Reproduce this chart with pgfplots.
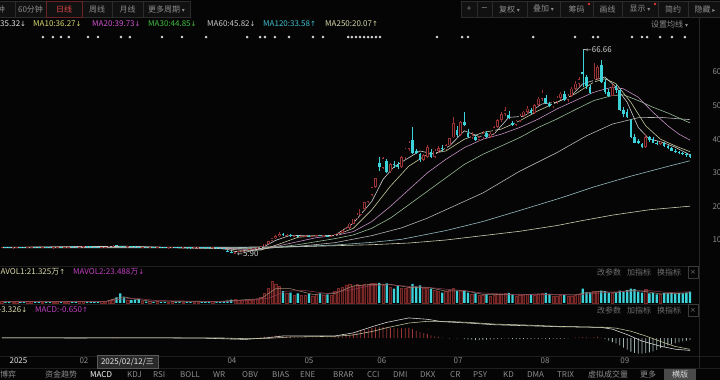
\documentclass[border=0pt]{standalone}
\usepackage{pgfplots}
\pgfplotsset{compat=1.18}
\usepackage{pgfplotstable}
\usepackage{fontspec}
\setmainfont{Noto Sans CJK SC}
\newfontfamily\djv{DejaVu Sans}
\definecolor{bg}{HTML}{050505}
\definecolor{upred}{HTML}{9A3434}
\definecolor{volred}{HTML}{7A2828}
\definecolor{volfill}{HTML}{341010}
\definecolor{dncyan}{HTML}{3CD2DA}
\definecolor{txtgrey}{HTML}{8C8C8C}
\definecolor{ma5c}{HTML}{E2E2E2}
\definecolor{ma10c}{HTML}{D8D870}
\definecolor{ma20c}{HTML}{D050D0}
\definecolor{ma30c}{HTML}{40C040}
\definecolor{ma60c}{HTML}{C8C8C8}
\definecolor{ma120c}{HTML}{40C0D0}
\definecolor{ma250c}{HTML}{D8D8A8}
\definecolor{lgrey}{HTML}{B8B8B8}
\definecolor{boxc}{HTML}{111111}
\definecolor{boxl}{HTML}{2C2C2C}
\definecolor{tabred}{HTML}{6A2424}
\definecolor{tabtxt}{HTML}{E04444}
\definecolor{reddot}{HTML}{E03030}
\definecolor{sepc}{HTML}{1E1E1E}
\definecolor{vsep}{HTML}{262626}
\definecolor{mavol1}{HTML}{A08870}
\definecolor{mavol2}{HTML}{8E3A52}
\definecolor{histneg}{HTML}{A0B4B4}
\definecolor{histpos}{HTML}{A03636}
\definecolor{deac}{HTML}{C8C8A0}
\definecolor{mavlab}{HTML}{D8D8A8}
\definecolor{magl}{HTML}{C040C0}
\definecolor{dealab}{HTML}{E0E0B0}
\definecolor{dimtxt}{HTML}{6E6E6E}
\definecolor{xbox}{HTML}{3A3A3A}
\definecolor{tipl}{HTML}{5A5A5A}
\definecolor{tipf}{HTML}{2A2A2A}
\definecolor{hengf}{HTML}{4A4A4A}
\newcommand\ft{\fontsize{8}{9.6}\selectfont}
\newcommand\dn{{\djv\fontsize{7}{8}\selectfont ↓}}
\newcommand\up{{\djv\fontsize{7}{8}\selectfont ↑}}
\newcommand\tri{{\djv\fontsize{6}{7}\selectfont ▾}}

\pgfplotsset{
  panel/.style={scale only axis, width=697pt, xmin=-0.5, xmax=187.88,
    axis line style={draw=none}, tick style={draw=none}, xtick=\empty, ytick=\empty,
    clip=false, anchor=south west},
  seg/.style={mark=none, -, quiver={u=0, v={#1}}}
}

\pgfplotstableread{
d o h l c v u m
0 7.80 7.95 7.70 7.85 3 1 0
1 7.85 7.90 7.65 7.70 3 0 0
2 7.70 7.80 7.55 7.60 3 0 0
3 7.60 7.75 7.50 7.70 2 1 0
4 7.70 7.85 7.65 7.80 3 1 0
5 7.80 7.90 7.70 7.75 2 0 0
6 7.75 7.85 7.60 7.65 2 0 0
7 7.65 7.80 7.60 7.75 3 1 0
8 7.75 7.90 7.70 7.85 3 1 0
9 7.85 7.95 7.75 7.80 2 0 0
10 7.80 7.90 7.65 7.70 2 0 0
11 7.70 7.80 7.60 7.75 2 1 0
12 7.75 7.85 7.65 7.70 2 0 0
13 7.70 7.80 7.60 7.65 2 0 0
14 7.65 7.75 7.55 7.70 2 1 0
15 7.70 7.85 7.65 7.80 3 1 0
16 7.80 7.90 7.70 7.75 2 0 0
17 7.75 7.85 7.65 7.80 2 1 0
18 7.80 7.95 7.75 7.90 3 1 0
19 7.90 8.00 7.80 7.85 3 0 0
20 7.85 7.95 7.75 7.80 2 0 0
21 7.80 7.90 7.70 7.85 3 1 0
22 7.85 8.00 7.80 7.95 4 1 0
23 7.95 8.05 7.85 7.90 3 0 0
24 7.90 8.00 7.80 7.85 3 0 0
25 7.85 7.95 7.75 7.80 2 0 0
26 7.80 7.90 7.70 7.75 2 0 0
27 7.75 7.85 7.65 7.80 3 1 0
28 7.80 7.95 7.75 7.90 3 1 0
29 7.90 8.10 7.85 8.05 6 1 0.05
30 8.05 8.40 8.00 8.30 8 1 0.1
31 8.30 8.60 8.15 8.25 12 0 0.1
32 8.25 8.35 8.00 8.05 20 0 0.05
33 8.05 8.15 7.90 7.95 12 0 0
34 7.95 8.05 7.85 8.00 5 1 0
35 8.00 8.10 7.85 7.90 6 0 0
36 7.90 8.00 7.80 7.85 7 0 0
37 7.85 7.95 7.75 7.80 8 0 0
38 7.80 7.90 7.70 7.85 4 1 0
39 7.85 7.95 7.75 7.80 3 0 0
40 7.80 7.90 7.70 7.85 3 1 0
41 7.85 7.90 7.65 7.70 2 0 0
42 7.70 7.80 7.60 7.75 3 1 0
43 7.75 7.85 7.65 7.70 2 0 0
44 7.70 7.80 7.60 7.65 2 0 0
45 7.65 7.75 7.55 7.70 2 1 0
46 7.70 7.80 7.60 7.75 3 1 0
47 7.75 7.85 7.65 7.70 2 0 0
48 7.70 7.80 7.55 7.60 3 0 0
49 7.60 7.70 7.50 7.65 2 1 0
50 7.65 7.75 7.55 7.60 2 0 0
51 7.60 7.70 7.50 7.55 2 0 0
52 7.55 7.65 7.45 7.60 2 1 0
53 7.60 7.75 7.55 7.70 3 1 0
54 7.70 7.80 7.60 7.65 2 0 0
55 7.65 7.75 7.55 7.60 2 0 0
56 7.60 7.70 7.50 7.55 2 0 0
57 7.55 7.65 7.45 7.60 3 1 0
58 7.60 7.70 7.50 7.55 3 0 0
59 7.55 7.60 7.40 7.45 3 0 -0.05
60 7.45 7.55 7.30 7.35 4 0 -0.1
61 6.90 7.00 6.62 6.62 5 0 -0.2
62 6.40 6.60 6.00 6.10 7 0 -0.3
63 6.00 6.40 5.90 6.35 8 1 -0.4
64 6.35 6.70 6.30 6.65 6 1 -0.4
65 6.65 6.90 6.55 6.80 5 1 -0.35
66 6.80 7.10 6.75 7.05 5 1 -0.3
67 7.05 7.40 7.00 7.35 6 1 -0.2
68 7.35 7.60 7.25 7.50 6 1 -0.1
69 7.50 7.80 7.40 7.70 8 1 0
70 7.70 8.20 7.65 8.10 12 1 0.2
71 8.10 8.90 8.05 8.85 20 1 0.3
72 8.85 9.70 8.80 9.70 30 1 0.4
73 9.70 10.67 9.60 10.50 46 1 0.6
74 10.50 11.50 10.30 11.20 40 1 0.7
75 11.20 12.40 11.00 11.80 35 1 0.7
76 11.80 12.20 11.20 11.40 25 0 0.6
77 11.40 11.90 11.10 11.50 20 1 0.5
78 11.50 11.70 11.00 11.10 22 0 0.4
79 11.10 11.40 10.80 11.20 17 1 0.3
80 11.20 11.50 10.90 11.00 20 0 0.2
81 11.00 11.30 10.80 11.10 16 1 0.2
82 11.10 11.40 10.90 11.25 17 1 0.15
83 11.25 11.40 10.95 11.00 19 0 0.1
84 11.00 11.20 10.80 11.10 15 1 0.1
85 11.10 11.50 11.00 11.40 18 1 0.1
86 11.40 11.60 11.10 11.20 20 0 0.05
87 11.20 11.50 11.00 11.30 16 1 0.05
88 11.30 11.45 11.00 11.10 18 0 0.1
89 11.10 11.40 10.95 11.30 16 1 0.1
90 11.30 11.80 11.20 11.70 24 1 0.15
91 11.70 12.20 11.50 12.10 30 1 0.3
92 12.10 13.00 12.00 12.90 34 1 0.5
93 12.90 13.80 12.70 13.60 38 1 0.7
94 13.60 15.00 13.40 14.90 40 1 0.9
95 14.90 16.39 14.70 16.39 36 1 1.2
96 16.39 18.03 16.20 17.60 40 1 1.6
97 17.60 19.36 17.40 19.36 38 1 2.0
98 19.36 21.30 19.00 21.30 40 1 2.4
99 21.30 23.43 21.00 23.43 39 1 2.7
100 23.43 25.77 23.00 25.77 41 1 2.9
101 25.77 28.35 25.50 28.35 42 1 3.1
102 33.00 34.70 30.50 31.70 42 0 3.2
103 31.50 34.80 31.20 34.40 38 1 3.2
104 33.50 34.00 29.80 30.20 41 0 3.1
105 30.50 33.00 30.00 32.60 33 1 3.0
106 32.60 33.50 31.50 32.30 30 0 2.9
107 32.30 33.20 31.00 31.70 36 0 2.8
108 31.80 35.00 31.50 34.60 30 1 2.8
109 34.60 37.50 34.00 37.20 32 1 2.9
110 37.20 39.50 36.50 38.90 33 1 3.0
111 39.80 43.60 35.50 35.90 40 0 2.6
112 36.50 37.20 35.50 36.00 35 0 2.2
113 35.50 36.00 33.20 33.80 37 0 1.7
114 33.80 35.50 33.50 35.20 30 1 1.4
115 34.70 38.20 34.50 37.70 32 1 1.2
116 36.20 37.00 34.40 34.70 30 0 0.8
117 34.80 37.00 34.50 36.60 26 1 0.5
118 36.50 38.00 36.00 37.40 25 1 0.3
119 37.40 38.40 36.50 37.00 22 0 0.1
120 37.00 38.50 36.80 38.20 24 1 0.0
121 38.20 40.50 38.00 40.30 27 1 -0.1
122 40.60 46.60 40.30 44.80 30 1 0.0
123 42.70 44.00 40.80 41.20 26 0 -0.1
124 41.30 45.50 41.00 45.00 24 1 0.0
125 45.10 48.00 43.80 44.20 25 0 -0.2
126 42.00 43.00 40.30 40.60 22 0 -0.4
127 40.60 42.00 40.00 41.00 18 1 -0.5
128 40.60 41.20 39.50 39.80 20 0 -0.6
129 39.80 41.00 39.50 40.60 16 1 -0.6
130 40.60 42.30 40.20 41.80 17 1 -0.5
131 41.80 42.50 40.30 40.60 18 0 -0.5
132 40.80 42.00 40.50 41.70 15 1 -0.4
133 41.70 43.80 41.50 43.60 17 1 -0.4
134 43.60 46.00 43.30 45.70 18 1 -0.3
135 45.70 48.00 45.00 47.50 19 1 -0.2
136 47.50 49.50 46.80 48.70 20 1 -0.1
137 47.20 48.50 46.00 46.30 21 0 -0.2
138 44.80 45.50 43.80 44.20 17 0 -0.3
139 44.20 45.80 43.90 45.50 15 1 -0.3
140 45.50 47.50 45.20 47.00 16 1 -0.3
141 47.00 48.50 46.50 48.20 17 1 -0.3
142 48.20 49.80 47.60 49.10 18 1 -0.3
143 48.80 49.20 47.40 47.80 18 0 -0.3
144 47.80 50.50 47.60 50.20 17 1 -0.2
145 50.20 52.50 49.80 52.00 19 1 -0.2
146 52.00 54.50 51.50 53.80 20 1 -0.2
147 52.30 53.20 50.50 50.80 21 0 -0.3
148 50.60 51.00 49.50 49.80 19 0 -0.3
149 49.80 51.50 49.20 51.20 15 1 -0.2
150 51.20 53.00 50.60 52.40 15 1 -0.2
151 52.40 54.00 51.80 53.50 16 1 -0.2
152 53.50 54.20 51.50 51.80 17 0 -0.2
153 51.80 53.50 51.20 53.00 14 1 -0.1
154 53.00 55.50 52.60 55.00 15 1 0.0
155 55.00 57.20 54.50 56.50 17 1 0.1
156 56.50 58.50 55.50 57.80 19 1 0.2
157 60.00 66.66 55.50 59.30 30 0 0.3
158 58.50 59.00 55.00 55.80 22 0 0.2
159 55.50 56.20 53.50 53.90 22 0 0.1
160 54.00 62.70 53.80 58.00 25 1 0.2
161 58.00 62.00 57.50 61.50 24 1 0.3
162 62.00 63.60 56.80 57.00 26 0 0.1
163 57.00 58.00 53.50 54.00 25 0 -0.3
164 54.00 54.80 52.50 53.00 22 0 -0.8
165 53.00 56.50 52.80 55.50 20 1 -1.2
166 55.50 56.00 53.80 54.60 21 0 -1.6
167 54.60 55.00 48.50 48.70 26 0 -2.2
168 48.70 49.50 46.50 47.60 24 0 -2.8
169 48.20 49.00 46.20 46.60 27 0 -3.4
170 45.70 46.00 40.50 40.60 30 0 -4.0
171 40.60 41.50 38.80 39.00 29 0 -4.4
172 39.50 40.00 38.50 38.90 24 0 -4.6
173 38.50 39.00 37.30 37.70 22 0 -4.6
174 37.70 41.50 37.40 40.60 28 1 -4.4
175 40.60 41.00 39.20 39.80 20 0 -4.2
176 40.20 40.60 38.80 39.00 21 0 -3.9
177 39.00 39.50 38.20 38.60 18 0 -3.5
178 38.60 39.60 38.30 39.20 19 1 -3.0
179 39.00 39.30 37.60 37.90 21 0 -2.6
180 37.90 38.20 37.00 37.30 20 0 -2.2
181 37.30 37.60 36.40 36.60 22 0 -1.9
182 36.60 37.00 35.80 36.30 19 0 -1.6
183 36.30 36.60 35.50 35.80 21 0 -1.3
184 35.80 36.20 35.30 35.60 20 0 -1.0
185 35.60 35.90 34.80 35.40 22 0 -0.8
186 35.40 35.60 34.40 34.80 24 0 -0.65
}\pricedata

\begin{document}
\begin{tikzpicture}[x=1pt,y=1pt]
\useasboundingbox (0,0) rectangle (720,380);
\fill[bg] (0,0) rectangle (720,380);

% ---------- toolbar ----------
\foreach \a/\b in {-5/15,15/46,82/112,112/143,143/190,461/477,477/492,492/527,527/560,560/593,593/622,622/658,658/688,688/725}
  \draw[boxl, fill=boxc, line width=0.5pt] (\a,363) rectangle (\b,379);
\draw[tabred, fill=boxc, line width=0.6pt] (46,363) rectangle (82,379);
\begin{scope}[every node/.style={font=\ft, text=txtgrey, inner sep=0pt}]
\node at (-3,371) {分钟};
\node at (30.5,371) {60分钟};
\node[text=tabtxt] at (64,371) {日线};
\node at (97,371) {周线};
\node at (127.5,371) {月线};
\node at (166.5,371) {更多周期 \tri};
\node at (469,371) {+};
\node at (484.5,371) {{\djv −}};
\node at (509.5,371) {复权 \tri};
\node at (543.5,371) {叠加 \tri};
\node at (576.5,371) {筹码};
\node at (607.5,371) {画线};
\node at (640,371) {显示 \tri};
\node at (673,371) {简约};
\node at (705,371) {隐藏 {\djv\fontsize{6}{7}\selectfont ▸}};
\end{scope}
\fill[reddot] (589,376) circle (1.3);
\fill[reddot] (655,376) circle (1.3);

% ---------- MA legend ----------
\begin{scope}[every node/.style={font=\ft, inner sep=0pt, anchor=west}]
\node[text=ma5c] at (-18,356) {MA5:35.32\dn};
\node[text=ma10c] at (33,356) {MA10:36.27\dn};
\node[text=ma20c] at (92,356) {MA20:39.73\dn};
\node[text=ma30c] at (148,356) {MA30:44.85\dn};
\node[text=ma60c] at (207,356) {MA60:45.82\dn};
\node[text=ma120c] at (263,356) {MA120:33.58\up};
\node[text=ma250c] at (325,356) {MA250:20.07\up};
\node[text=txtgrey] at (651,356) {设置均线 \tri};
\end{scope}

% separators
\draw[sepc, line width=0.5pt] (0,114) -- (699,114);
\draw[sepc, line width=0.5pt] (0,76) -- (699,76);
\draw[sepc, line width=0.5pt] (0,24) -- (720,24);
\draw[sepc, line width=0.5pt] (0,12) -- (720,12);
\draw[vsep, line width=0.5pt] (699,12) -- (699,362);

% ---------- main price axis ----------
\begin{axis}[panel, height=235pt, at={(0pt,115pt)},
  ymin=2.56, ymax=72.5, ytick={10,20,30,40,50,60}, yticklabel pos=right,
  /pgf/number format/assume math mode=true,
  yticklabel style={font=\ft, text=txtgrey, anchor=west, xshift=12pt}]
% moving averages
\addplot[ma250c!60!lgrey, line width=0.6pt] coordinates {(0,7.9) (60,7.85) (80,8.0) (100,8.6) (110,9.1) (120,10.0) (130,11.3) (140,12.6) (150,14.3) (157,15.8) (165,17.4) (175,19.0) (186,20.07)};
\addplot[ma120c!30!lgrey, line width=0.6pt] coordinates {(0,7.7) (60,7.7) (75,7.9) (90,8.5) (100,9.3) (108,10.2) (120,12.8) (130,15.5) (140,18.8) (151,22.5) (160,25.8) (170,29.0) (180,31.9) (186,33.58)};
\addplot[ma60c!90!black, line width=0.6pt] coordinates {(0,7.8) (60,7.7) (70,7.5) (80,8.1) (90,9.2) (100,11.3) (108,13.6) (115,16.5) (120,19) (130,24) (140,30.5) (150,36.0) (158,41) (165,44.5) (172,46.4) (178,46.5) (186,45.82)};
\addplot[ma30c!30!lgrey, line width=0.6pt] coordinates {(0,7.8) (30,7.9) (60,7.6) (70,7.3) (75,7.9) (80,8.6) (85,9.5) (90,10.4) (95,11.5) (100,13.5) (105,16.5) (110,20.5) (115,24.5) (120,28.5) (125,32.5) (130,35.5) (135,38) (140,40.5) (145,43.5) (150,46) (155,48.8) (160,51.5) (165,53.0) (168,53.2) (172,51.5) (176,49.5) (180,47.8) (186,44.85)};
\addplot[ma20c!40!lgrey, line width=0.6pt] coordinates {(0,7.75) (30,8.0) (45,7.8) (60,7.6) (66,7.2) (70,7.2) (75,8.3) (80,9.5) (85,10.7) (90,11.3) (95,12.5) (100,15.5) (105,20) (110,25) (115,30) (120,34) (125,37.5) (130,40) (135,41.5) (140,43.5) (145,46) (150,49) (155,51.5) (160,54) (165,55.5) (168,55) (172,52.5) (176,48) (180,44) (183,41.5) (186,39.73)};
\addplot[ma10c!40!lgrey, line width=0.6pt] coordinates {(0,7.75) (30,8.05) (35,8.1) (45,7.75) (60,7.5) (65,6.9) (70,7.0) (75,8.8) (80,10.8) (85,11.3) (90,11.3) (95,13.5) (100,19) (105,26) (110,32) (115,35.5) (120,36.5) (125,40) (130,42) (135,43) (140,45.5) (145,48.5) (150,51) (155,53.5) (160,57) (163,58) (166,56.5) (170,51) (174,44) (178,40) (182,38) (186,36.27)};
\addplot[ma5c!90!black, line width=0.6pt] coordinates {(0,7.75) (30,8.1) (33,8.2) (37,7.95) (50,7.65) (58,7.55) (61,7.2) (63,6.6) (66,6.4) (70,7.5) (74,9.9) (78,11.4) (85,11.2) (90,11.4) (95,15) (100,21.5) (103,28) (106,31.8) (110,34.5) (113,36.5) (117,35.5) (121,38) (125,42.5) (129,40.8) (133,41.5) (137,46.5) (141,46.8) (146,50.5) (150,51) (154,53) (157,56.5) (160,57.5) (163,58.5) (166,55.5) (169,51) (172,43.5) (175,40) (178,39.3) (182,37.6) (186,35.32)};
% up candles (hollow red): wick, body, hollow inside
\addplot[seg={\thisrow{h}-\thisrow{l}}, draw=upred, line width=0.5pt, restrict y to domain=0:200]
  table[x=d, y expr={\thisrow{u}*\thisrow{l}-(1-\thisrow{u})*1000}]{\pricedata};
\addplot[seg={max(abs(\thisrow{c}-\thisrow{o}),0.25)}, draw=upred, line width=2.6pt, restrict y to domain=0:200]
  table[x=d, y expr={\thisrow{u}*(min(\thisrow{o},\thisrow{c})-0.03)-(1-\thisrow{u})*1000}]{\pricedata};
\addplot[seg={max(abs(\thisrow{c}-\thisrow{o})-0.36,0.001)}, draw=bg, line width=1.5pt, restrict y to domain=0:200]
  table[x=d, y expr={\thisrow{u}*(min(\thisrow{o},\thisrow{c})+0.18)-(1-\thisrow{u})*1000}]{\pricedata};
% down candles (filled cyan)
\addplot[seg={\thisrow{h}-\thisrow{l}}, draw=dncyan, line width=0.5pt, restrict y to domain=0:200]
  table[x=d, y expr={(1-\thisrow{u})*\thisrow{l}-\thisrow{u}*1000}]{\pricedata};
\addplot[seg={max(abs(\thisrow{c}-\thisrow{o}),0.25)}, draw=dncyan, line width=2.6pt, restrict y to domain=0:200]
  table[x=d, y expr={(1-\thisrow{u})*(min(\thisrow{o},\thisrow{c})-0.03)-\thisrow{u}*1000}]{\pricedata};
% event dots
\addplot[only marks, mark=*, mark size=1.1pt, color=white!85!black] coordinates {
(11.1,70.4) (13.8,70.4) (16,70.4) (18.1,70.4) (23.3,70.4) (26,70.4) (32.2,70.4) (34.6,70.4)
(43.3,70.4) (48.7,70.4) (55.2,70.4) (66.3,70.4) (69.8,70.4) (71.1,70.4) (73.8,70.4) (77.6,70.4)
(84.1,70.4) (86.8,70.4) (93.6,70.4) (94.6,70.4) (95.7,70.4) (96.8,70.4) (97.9,70.4) (99,70.4)
(100,70.4) (101.1,70.4) (102.2,70.4) (117.6,70.4) (124.4,70.4) (126,70.4) (143.6,70.4)
(154.9,70.4) (159.8,70.4) (161.1,70.4) (170.3,70.4) (173,70.4) (174.4,70.4) (177.9,70.4)
(181.1,70.4) (184.6,70.4)};
\draw[white!70!black, line width=0.4pt] (axis cs:157,66.66) -- ++(3pt,0pt);
\node[anchor=west, font=\ft, text=white!80!black, inner sep=0pt, xshift=3pt] at (axis cs:157,66.66) {{\djv\fontsize{7}{8}\selectfont ←}66.66};
\node[anchor=west, font=\ft, text=white!80!black, inner sep=0pt, xshift=2pt] at (axis cs:63,5.90) {{\djv\fontsize{7}{8}\selectfont ←}5.90};
\end{axis}

% ---------- volume axis ----------
\begin{axis}[panel, height=25pt, at={(0pt,77pt)}, ymin=0, ymax=52.5]
\addplot[ybar, bar width=2.3pt, bar shift=0pt, fill=volfill, draw=volred, line width=0.45pt, restrict y to domain=0:500]
  table[x=d, y expr={\thisrow{u}*\thisrow{v}-(1-\thisrow{u})*1000}]{\pricedata};
\addplot[ybar, bar width=2.3pt, bar shift=0pt, fill=dncyan, draw=none, restrict y to domain=0:500]
  table[x=d, y expr={(1-\thisrow{u})*\thisrow{v}-\thisrow{u}*1000}]{\pricedata};
\addplot[mavol1, line width=0.5pt] coordinates {(0,3) (28,3) (31,10) (33,13) (36,8) (40,4) (58,3) (62,5) (70,9) (74,30) (78,30) (84,18) (90,20) (95,36) (100,39) (105,39) (110,33) (115,33) (120,25) (125,26) (130,18) (135,18) (140,17) (145,19) (150,17) (155,17) (158,22) (162,24) (166,22) (170,27) (174,24) (178,19) (182,20) (186,21.3)};
\addplot[mavol2, line width=0.5pt] coordinates {(0,3) (28,3) (32,8) (36,10) (42,5) (60,3) (65,5) (72,10) (77,25) (82,26) (88,20) (94,27) (100,37) (105,38) (110,35) (115,33) (120,29) (125,26) (130,21) (135,19) (140,18) (145,18) (150,18) (155,17) (160,20) (165,23) (170,25) (175,26) (180,22) (186,23.5)};
\end{axis}

% ---------- MACD axis ----------
\begin{axis}[panel, height=41pt, at={(0pt,24pt)}, ymin=-5.29, ymax=6.76,
  xtick={4.5,22.2,62.2,83,102.7,123.3,146.8,168.4},
  xticklabels={{\textcolor{white!90!black}{2025}},02,04,05,06,07,08,09},
  xticklabel style={font=\ft, text=txtgrey, inner sep=0pt, yshift=-1pt}]
\addplot[ybar, bar width=0.8pt, bar shift=0pt, fill=histpos, draw=none, restrict y to domain=0.001:20]
  table[x=d, y=m]{\pricedata};
\addplot[ybar, bar width=0.8pt, bar shift=0pt, fill=histneg, draw=none, restrict y to domain=-20:-0.001]
  table[x=d, y=m]{\pricedata};
\addplot[white!88!black, line width=0.55pt] coordinates {(0,0.05) (20,0.0) (40,0.05) (55,-0.05) (62,-0.3) (66,-0.4) (72,0.1) (76,0.6) (82,0.6) (90,0.6) (95,1.5) (100,3.3) (104,4.6) (110,5.9) (115,5.5) (119,4.8) (126,4.4) (133,3.9) (142,3.6) (151,3.3) (158,3.2) (162,3.1) (165,2.6) (169,1.0) (173,-0.9) (178,-2.4) (182,-3.3) (186,-3.65)};
\addplot[deac, line width=0.55pt] coordinates {(0,0.05) (40,0.03) (60,0.0) (66,-0.2) (72,-0.1) (78,0.3) (90,0.5) (95,0.9) (100,1.9) (104,3.0) (110,4.4) (115,4.9) (120,4.9) (126,4.6) (133,4.1) (142,3.8) (151,3.4) (158,3.25) (163,3.15) (166,2.9) (170,2.0) (174,0.6) (178,-1.0) (182,-2.5) (186,-3.326)};
\end{axis}

% ---------- pane labels ----------
\begin{scope}[every node/.style={font=\ft, inner sep=0pt, anchor=west}]
\node[text=mavlab] at (-6,108) {MAVOL1:21.325万\up};
\node[text=magl] at (73,108) {MAVOL2:23.488万\dn};
\node[text=dealab] at (-19,70) {DEA:-3.326\dn};
\node[text=magl] at (35,70) {MACD:-0.650\up};
\node[text=dimtxt] at (597,108) {改参数};
\node[text=dimtxt] at (627,108) {加指标};
\node[text=dimtxt] at (657,108) {换指标};
\node[text=dimtxt] at (597,70) {改参数};
\node[text=dimtxt] at (627,70) {加指标};
\node[text=dimtxt] at (657,70) {换指标};
\end{scope}
\draw[xbox, line width=0.5pt] (688,102) rectangle (698,114);
\node[font=\djv\fontsize{7}{8}\selectfont, text=dimtxt, inner sep=0pt] at (693,108) {×};
\draw[xbox, line width=0.5pt] (688,64) rectangle (698,76);
\node[font=\djv\fontsize{7}{8}\selectfont, text=dimtxt, inner sep=0pt] at (693,70) {×};

% tooltip
\draw[tipl, fill=tipf, line width=0.5pt] (97,11.5) rectangle (158,25);
\node[font=\ft, text=white!90!black, inner sep=0pt] at (127.5,18.2) {2025/02/12/三};

% ---------- bottom tabs ----------
\begin{scope}[every node/.style={font=\ft, text=txtgrey, inner sep=0pt, anchor=west}]
\node at (-16,5.5) {资金博弈};
\node at (45,5.5) {资金趋势};
\node[text=white] at (90,5.5) {MACD};
\node at (127,5.5) {KDJ};
\node at (153,5.5) {RSI};
\node at (180,5.5) {BOLL};
\node at (213,5.5) {WR};
\node at (242,5.5) {OBV};
\node at (272,5.5) {BIAS};
\node at (300,5.5) {ENE};
\node at (333,5.5) {BRAR};
\node at (367,5.5) {CCI};
\node at (393,5.5) {DMI};
\node at (420,5.5) {DKX};
\node at (450,5.5) {CR};
\node at (473,5.5) {PSY};
\node at (503,5.5) {KD};
\node at (527,5.5) {DMA};
\node at (557,5.5) {TRIX};
\node at (588,5.5) {虚拟成交量};
\node at (640,5.5) {更多};
\end{scope}
\fill[hengf] (664,0) rectangle (696,11);
\node[font=\ft, text=white!85!black, inner sep=0pt] at (680,5.5) {横版};
\end{tikzpicture}
\end{document}
